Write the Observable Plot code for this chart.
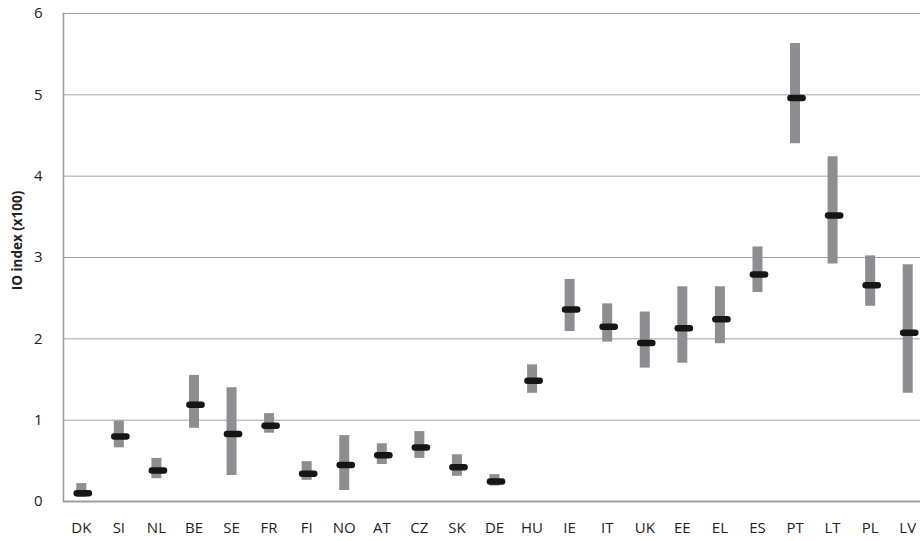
<!DOCTYPE html>
<html>
<head>
<meta charset="utf-8">
<script src="https://cdn.jsdelivr.net/npm/d3@7"></script>
<script src="https://cdn.jsdelivr.net/npm/@observablehq/plot@0.6"></script>
<style>
  html, body { margin: 0; padding: 0; background: #fff; overflow: hidden; }
  #chart svg { display: block; }
</style>
</head>
<body>
<div id="chart"></div>
<script>
const countries = ["DK","SI","NL","BE","SE","FR","FI","NO","AT","CZ","SK","DE","HU","IE","IT","UK","EE","EL","ES","PT","LT","PL","LV"];
const estimate  = [0.10,0.80,0.38,1.19,0.83,0.93,0.34,0.45,0.57,0.665,0.42,0.245,1.485,2.36,2.15,1.95,2.13,2.24,2.79,4.96,3.515,2.66,2.075];
const lower     = [0.05,0.66,0.28,0.90,0.32,0.84,0.26,0.135,0.455,0.53,0.31,0.19,1.33,2.09,1.96,1.64,1.70,1.94,2.57,4.40,2.92,2.40,1.33];
const upper     = [0.22,0.99,0.53,1.55,1.40,1.08,0.49,0.81,0.71,0.86,0.575,0.33,1.68,2.73,2.43,2.33,2.64,2.64,3.13,5.63,4.24,3.02,2.91];
const yTicks    = [0,1,2,3,4,5,6];
const yTitle    = "IO index (x100)";

const data = countries.map((c, i) => ({c, est: estimate[i], lo: lower[i], hi: upper[i]}));

const chart = Plot.plot({
  width: 920,
  height: 541,
  marginTop: 13,
  marginBottom: 40,
  marginLeft: 63,
  marginRight: 0,
  style: {fontFamily: "'Open Sans', sans-serif", fontSize: "13px", color: "#222", background: "#fff"},
  x: {type: "band", domain: countries, range: [62, 926], padding: 0, round: false, label: null},
  y: {domain: [0, 6], label: null},
  marks: [
    Plot.gridY(yTicks.slice(1), {stroke: "#a3a3a3", strokeOpacity: 1, strokeWidth: 1}),
    Plot.frame({anchor: "left", stroke: "#9a9a9a", strokeWidth: 1.5}),
    Plot.ruleX(data, {x: "c", y1: "lo", y2: "hi", stroke: "#8d8e91", strokeWidth: 10}),
    Plot.tickY(data, {x: "c", y: "est", stroke: "#151515", strokeWidth: 6.5, strokeLinecap: "round", insetLeft: 12.7, insetRight: 12.7, dx: 2}),
    Plot.ruleY([0], {stroke: "#9f9f9f", strokeWidth: 2.2}),
    Plot.axisY(yTicks, {tickSize: 0, tickPadding: 21, fontSize: 15, tickFormat: "d", label: null}),
    Plot.axisX({tickSize: 0, tickPadding: 21, fontSize: 15, label: null}),
    Plot.text([yTitle], {frameAnchor: "left", dx: -46, dy: -17, rotate: -90, textAnchor: "middle", fontWeight: "bold", fontSize: 13.5})
  ]
});
document.getElementById("chart").appendChild(chart);
</script>
</body>
</html>
